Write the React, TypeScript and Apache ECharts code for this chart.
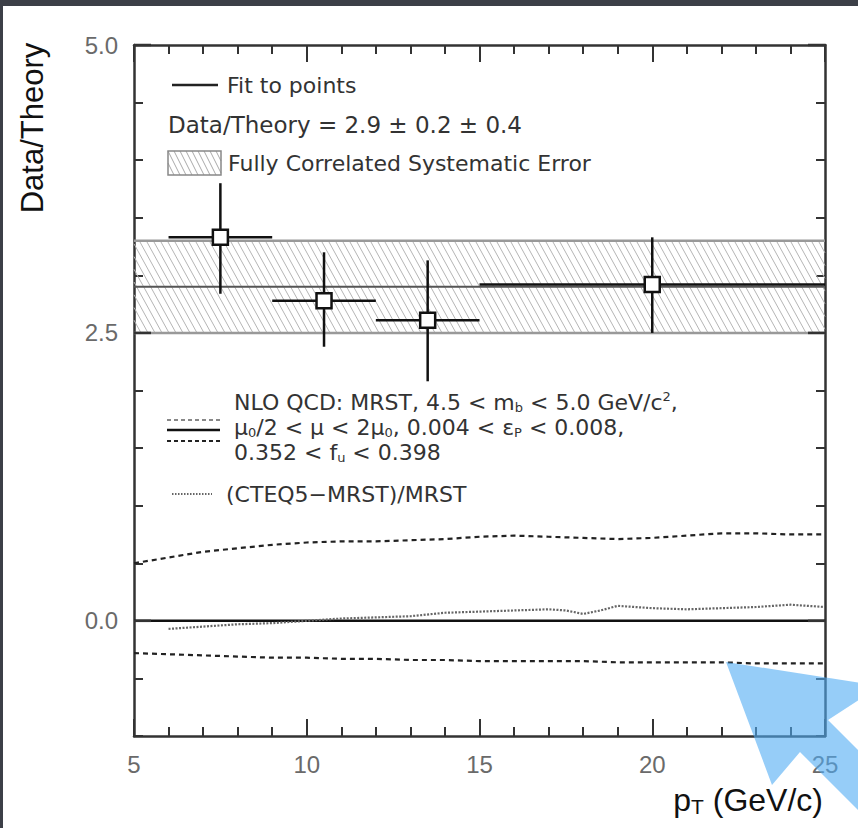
import React, { useEffect, useRef } from 'react';
import * as echarts from 'echarts';

// ---- data ----
const xMin = 5;
const xMax = 25;
const yMin = -1;
const yMax = 5;
const yMajorTicks = [0, 2.5, 5];

const ptX = [7.5, 10.5, 13.5, 20];
const ptY = [3.33, 2.78, 2.61, 2.92];
const ptXLo = [6, 9, 12, 15];
const ptXHi = [9, 12, 15, 25];
const ptYLo = [2.84, 2.38, 2.08, 2.5];
const ptYHi = [3.8, 3.2, 3.13, 3.33];

const fitValue = 2.9;
const bandLo = 2.5;
const bandHi = 3.3;

const curveX = [5, 6, 7, 8, 9, 10, 11, 12, 13, 14, 15, 16, 17, 18, 19, 20, 21, 22, 23, 24, 25];
const upperDash = [0.5, 0.55, 0.6, 0.63, 0.66, 0.68, 0.69, 0.69, 0.7, 0.71, 0.73, 0.74, 0.73, 0.72, 0.71, 0.72, 0.74, 0.76, 0.76, 0.75, 0.75];
const lowerDash = [-0.28, -0.29, -0.3, -0.31, -0.32, -0.32, -0.33, -0.33, -0.34, -0.34, -0.35, -0.35, -0.35, -0.35, -0.36, -0.36, -0.36, -0.36, -0.37, -0.37, -0.37];
const centralValue = 0;

const cteqX = [6, 7, 8, 9, 10, 11, 12, 13, 14, 15, 16, 17, 17.5, 18, 18.5, 19, 20, 21, 22, 23, 24, 25];
const cteqY = [-0.07, -0.05, -0.03, -0.02, 0.0, 0.02, 0.03, 0.04, 0.07, 0.08, 0.09, 0.1, 0.09, 0.06, 0.09, 0.13, 0.11, 0.1, 0.11, 0.12, 0.14, 0.12];

const HELV = "'Liberation Sans', Arial, sans-serif";
const ROUND = "'DejaVu Sans', sans-serif";

function hatchLines(L: number, T: number, R: number, B: number, spacing: number, slant: number, stroke: string) {
  const h = B - T;
  const dx = h * slant;
  const out: any[] = [];
  for (let xt = L - dx; xt < R; xt += spacing) {
    const t0 = Math.max(0, (L - xt) / dx);
    const t1 = Math.min(1, (R - xt) / dx);
    if (t1 <= t0) continue;
    out.push({
      type: 'line',
      shape: { x1: xt + dx * t0, y1: T + h * t0, x2: xt + dx * t1, y2: T + h * t1 },
      style: { stroke, lineWidth: 1 },
    });
  }
  return out;
}

export default function App() {
  const ref = useRef<HTMLDivElement>(null);
  useEffect(() => {
    if (!ref.current) return;
    const chart = echarts.init(ref.current, null, { renderer: 'svg' });

    const axisLineStyle = { color: '#333', width: 2.5 };
    const tickLine = { color: '#333', width: 2 };

    const xAxisBase = {
      type: 'value',
      min: xMin,
      max: xMax,
      interval: 5,
      splitLine: { show: false },
      axisLine: { show: true, onZero: false, lineStyle: axisLineStyle },
      axisTick: { show: true, inside: true, length: 17, lineStyle: tickLine },
      minorTick: { show: true, splitNumber: 5, length: 9, lineStyle: tickLine },
    };
    const yAxisBase = {
      type: 'value',
      min: yMin,
      max: yMax,
      interval: 0.5,
      splitLine: { show: false },
      axisLine: { show: true, onZero: false, lineStyle: axisLineStyle },
      axisTick: { show: true, inside: true, length: 9, lineStyle: tickLine },
    };

    const legText = (x: number, y: number, text: string, size = 22) => ({
      type: 'text', x, y,
      style: { text, x: 0, y: 0, fontSize: size, fontFamily: ROUND, fill: '#333', verticalAlign: 'middle', textVerticalAlign: 'middle' },
    });
    const nloRich = {
      t: { fontSize: 22, fontFamily: ROUND, fill: '#333', lineHeight: 24 },
      s: { fontSize: 13, fontFamily: ROUND, fill: '#333', lineHeight: 14, verticalAlign: 'bottom' },
      p: { fontSize: 13, fontFamily: ROUND, fill: '#333', lineHeight: 14, verticalAlign: 'top' },
    };
    const richText = (x: number, y: number, text: string) => ({
      type: 'text', x, y,
      style: { text, x: 0, y: 0, verticalAlign: 'middle', textVerticalAlign: 'middle', rich: nloRich },
    });

    const legendGraphics: any[] = [
      // dark border strips
      { type: 'rect', shape: { x: 0, y: 0, width: 858, height: 6 }, style: { fill: '#3c3f47' } },
      { type: 'rect', shape: { x: 0, y: 0, width: 3, height: 828 }, style: { fill: '#3c3f47' } },
      // y title
      {
        type: 'text', x: 32, y: 128, rotation: Math.PI / 2,
        style: { text: 'Data/Theory', x: 0, y: 0, fontSize: 31, fontFamily: HELV, fill: '#111', align: 'center', verticalAlign: 'middle', textAlign: 'center', textVerticalAlign: 'middle' },
      },
      // x title
      {
        type: 'text', x: 823, y: 800,
        style: {
          text: '{a|p}{b|T}{a| (GeV/c)}', x: 0, y: 0, align: 'right', verticalAlign: 'middle', textAlign: 'right', textVerticalAlign: 'middle',
          rich: {
            a: { fontSize: 32, fontFamily: HELV, fill: '#111', lineHeight: 34 },
            b: { fontSize: 21, fontFamily: HELV, fill: '#111', lineHeight: 18, verticalAlign: 'bottom' },
          },
        },
      },
      // legend: fit to points
      { type: 'line', shape: { x1: 172, y1: 85, x2: 218, y2: 85 }, style: { stroke: '#222', lineWidth: 2.5 } },
      legText(227, 85, 'Fit to points'),
      legText(168, 125, 'Data/Theory = 2.9 ± 0.2 ± 0.4', 23),
      ...hatchLines(168, 151, 221, 175, 6, 0.5, '#aaa'),
      { type: 'rect', shape: { x: 168, y: 151, width: 53, height: 24 }, style: { fill: 'none', stroke: '#888', lineWidth: 1.5 } },
      legText(228, 163, 'Fully Correlated Systematic Error'),
      // NLO legend
      { type: 'line', shape: { x1: 167, y1: 420, x2: 220, y2: 420 }, style: { stroke: '#888', lineWidth: 2, lineDash: [4, 3] } },
      { type: 'line', shape: { x1: 167, y1: 430, x2: 220, y2: 430 }, style: { stroke: '#111', lineWidth: 2.5 } },
      { type: 'line', shape: { x1: 167, y1: 441, x2: 220, y2: 441 }, style: { stroke: '#222', lineWidth: 2, lineDash: [4, 3] } },
      richText(234, 402, '{t|NLO QCD: MRST, 4.5 < m}{s|b}{t| < 5.0 GeV/c}{p|2}{t|,}'),
      richText(234, 427, '{t|μ}{s|0}{t|/2 < μ < 2μ}{s|0}{t|, 0.004 < ε}{s|P}{t| < 0.008,}'),
      richText(234, 452, '{t|0.352 < f}{s|u}{t| < 0.398}'),
      // CTEQ legend
      { type: 'line', shape: { x1: 172, y1: 494, x2: 212, y2: 494 }, style: { stroke: '#666', lineWidth: 2, lineDash: [1.5, 1.5] } },
      legText(226, 494, '(CTEQ5−MRST)/MRST'),
      // blue arrow overlay
      {
        type: 'polygon', z: 100,
        shape: { points: [[726, 662], [772, 785], [800, 752], [900, 852], [928, 820], [828, 720], [880, 686]] },
        style: { fill: 'rgba(80,172,243,0.6)' },
      },
    ];

    const option: any = {
      animation: false,
      backgroundColor: '#ffffff',
      grid: { left: 134, right: 33, top: 45, bottom: 92, containLabel: false },
      xAxis: [
        {
          ...xAxisBase,
          position: 'bottom',
          axisLabel: { show: true, fontSize: 24, fontFamily: HELV, color: '#6a6a6a', margin: 16 },
        },
        { ...xAxisBase, position: 'top', axisLabel: { show: false } },
      ],
      yAxis: [
        {
          ...yAxisBase,
          position: 'left',
          axisLabel: {
            show: true, fontSize: 24, fontFamily: HELV, color: '#6a6a6a', margin: 16,
            formatter: (v: number) => (yMajorTicks.some((m) => Math.abs(m - v) < 1e-6) ? v.toFixed(1) : ''),
          },
        },
        { ...yAxisBase, position: 'right', axisLabel: { show: false } },
      ],
      graphic: { elements: legendGraphics },
      series: [
        {
          // hatched systematic band
          type: 'custom', xAxisIndex: 0, yAxisIndex: 0, z: 1, silent: true,
          data: [[xMin, xMax, bandLo, bandHi]],
          encode: { x: [0, 1], y: [2, 3] },
          renderItem: (params: any, api: any) => {
            const p1 = api.coord([api.value(0), api.value(3)]);
            const p2 = api.coord([api.value(1), api.value(2)]);
            const L = p1[0], T = p1[1], R = p2[0], B = p2[1];
            return {
              type: 'group',
              children: [
                ...hatchLines(L, T, R, B, 7, 0.55, '#b5b5b5'),
                { type: 'line', shape: { x1: L, y1: T, x2: R, y2: T }, style: { stroke: '#999', lineWidth: 2.5 } },
                { type: 'line', shape: { x1: L, y1: B, x2: R, y2: B }, style: { stroke: '#999', lineWidth: 2.5 } },
              ],
            };
          },
        },
        {
          type: 'line', name: 'fit', xAxisIndex: 0, yAxisIndex: 0, z: 2, silent: true,
          data: [[xMin, fitValue], [xMax, fitValue]], symbol: 'none',
          lineStyle: { color: '#555', width: 2 },
        },
        {
          type: 'line', name: 'upper', xAxisIndex: 0, yAxisIndex: 0, z: 2, silent: true,
          data: curveX.map((x, i) => [x, upperDash[i]]), symbol: 'none',
          lineStyle: { color: '#222', width: 2.2, type: [5, 4] },
        },
        {
          type: 'line', name: 'central', xAxisIndex: 0, yAxisIndex: 0, z: 2, silent: true,
          data: [[xMin, centralValue], [xMax, centralValue]], symbol: 'none',
          lineStyle: { color: '#111', width: 2.5 },
        },
        {
          type: 'line', name: 'lower', xAxisIndex: 0, yAxisIndex: 0, z: 2, silent: true,
          data: curveX.map((x, i) => [x, lowerDash[i]]), symbol: 'none',
          lineStyle: { color: '#222', width: 2.2, type: [5, 4] },
        },
        {
          type: 'line', name: 'cteq', xAxisIndex: 0, yAxisIndex: 0, z: 2, silent: true,
          data: cteqX.map((x, i) => [x, cteqY[i]]), symbol: 'none',
          lineStyle: { color: '#666', width: 2.2, type: [2, 1.5] },
        },
        {
          // data points with error bars
          type: 'custom', xAxisIndex: 0, yAxisIndex: 0, z: 5, silent: true,
          data: ptX.map((x, i) => [x, ptY[i], ptXLo[i], ptXHi[i], ptYLo[i], ptYHi[i]]),
          encode: { x: [0, 2, 3], y: [1, 4, 5] },
          renderItem: (params: any, api: any) => {
            const x = api.value(0), y = api.value(1);
            const c = api.coord([x, y]);
            const l = api.coord([api.value(2), y]);
            const r = api.coord([api.value(3), y]);
            const b = api.coord([x, api.value(4)]);
            const t = api.coord([x, api.value(5)]);
            const s = 7.5;
            return {
              type: 'group',
              children: [
                { type: 'line', shape: { x1: l[0], y1: l[1], x2: r[0], y2: r[1] }, style: { stroke: '#111', lineWidth: 2.5 } },
                { type: 'line', shape: { x1: t[0], y1: t[1], x2: b[0], y2: b[1] }, style: { stroke: '#111', lineWidth: 2.5 } },
                { type: 'rect', shape: { x: c[0] - s, y: c[1] - s, width: 2 * s, height: 2 * s }, style: { fill: '#fff', stroke: '#111', lineWidth: 2.5 } },
              ],
            };
          },
        },
        {
          // long (major) y ticks on both frame sides
          type: 'custom', xAxisIndex: 0, yAxisIndex: 0, z: 6, silent: true,
          data: yMajorTicks.map((v) => [xMin, v]),
          renderItem: (params: any, api: any) => {
            const v = api.value(1);
            const a = api.coord([xMin, v]);
            const b = api.coord([xMax, v]);
            return {
              type: 'group',
              children: [
                { type: 'line', shape: { x1: a[0], y1: a[1], x2: a[0] + 17, y2: a[1] }, style: { stroke: '#333', lineWidth: 2.5 } },
                { type: 'line', shape: { x1: b[0] - 17, y1: b[1], x2: b[0], y2: b[1] }, style: { stroke: '#333', lineWidth: 2.5 } },
              ],
            };
          },
        },
      ],
    };
    chart.setOption(option);
    return () => chart.dispose();
  }, []);

  return (
    <div
      ref={ref}
      style={{ position: 'fixed', left: 0, top: 0, width: 858, height: 828, background: '#fff' }}
    />
  );
}
